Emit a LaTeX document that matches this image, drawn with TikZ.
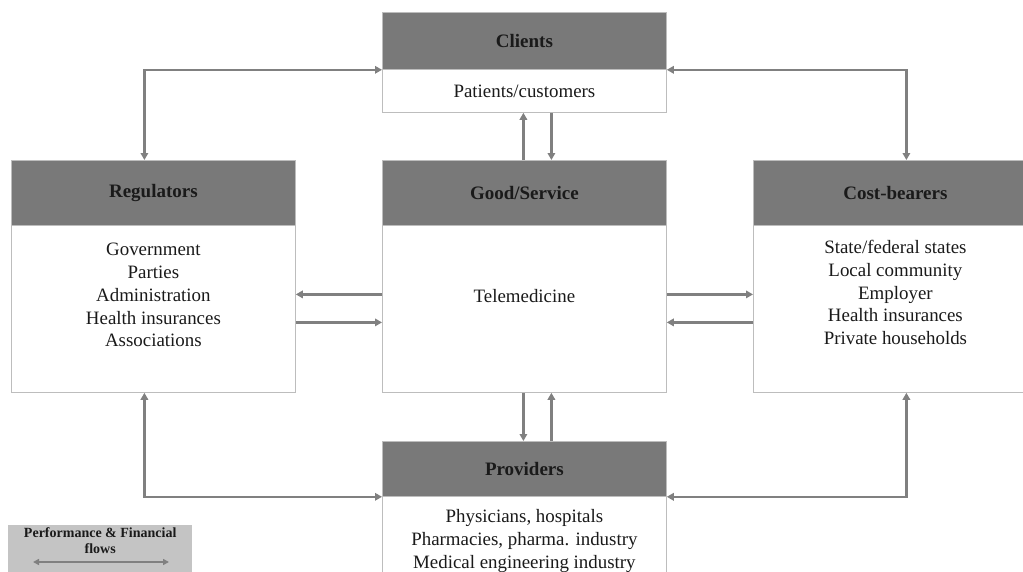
\documentclass[tikz,border=0pt]{standalone}
\usepackage{fontspec}
\setmainfont{Liberation Serif}
\usetikzlibrary{arrows.meta,calc}

\definecolor{headgray}{HTML}{797979}
\definecolor{boxline}{HTML}{BDBDBD}
\definecolor{flowgray}{HTML}{808080}
\definecolor{leggray}{HTML}{C4C4C4}
\definecolor{inkdark}{HTML}{1A1A1A}

\begin{document}
\begin{tikzpicture}[x=1pt,y=-1pt,
  head/.style={draw=boxline, line width=0.8pt, fill=headgray, minimum width=284pt,
    anchor=north west, inner sep=0pt, text=inkdark,
    font=\bfseries\fontsize{19}{22}\selectfont},
  body/.style={draw=boxline, line width=0.8pt, fill=white, minimum width=284pt,
    anchor=north west, inner sep=0pt},
  entries/.style={align=center, anchor=north, inner sep=0pt, text=inkdark,
    font=\fontsize{18.9}{22.8}\selectfont},
  flow/.style={draw=flowgray, line width=2.6pt,
    -{Triangle[length=7pt,width=7.5pt]}},
  flowboth/.style={draw=flowgray, line width=2.6pt,
    {Triangle[length=7pt,width=7.5pt]}-{Triangle[length=7pt,width=7.5pt]}}
]
\useasboundingbox (0,0) rectangle (1023,571);
\clip (0,0) rectangle (1023,571);

% Clients
\node[head, minimum height=57pt] (cliH) at (382,12) {Clients};
\node[body, minimum height=43pt] (cliB) at (382,69) {};
\node[entries, anchor=center] (cliT) at (cliB.center) {Patients/customers};

% Regulators
\node[head, minimum height=65pt] (regH) at (11,160) {Regulators};
\node[body, minimum height=167pt] (regB) at (11,225) {};
\node[entries] (regT) at ($(regB.north)+(0,18)$)
  {Government\\Parties\\Administration\\Health insurances\\Associations};

% Good/Service
\node[head, minimum height=65pt] (gooH) at (382,160) {Good/Service};
\node[body, minimum height=167pt] (gooB) at (382,225) {};
\node[entries, anchor=center] (gooT) at ($(gooB.center)+(0,-13)$) {Telemedicine};

% Cost-bearers
\node[head, minimum height=65pt] (cosH) at (753,160) {Cost-bearers};
\node[body, minimum height=167pt] (cosB) at (753,225) {};
\node[entries] (cosT) at ($(cosB.north)+(0,15)$)
  {State/federal states\\Local community\\Employer\\Health insurances\\Private households};

% Providers
\node[head, minimum height=55pt] (proH) at (382,441) {Providers};
\node[body, minimum height=120pt] (proB) at (382,496) {};
\node[entries, font=\fontsize{18.9}{23}\selectfont] (proT) at ($(proB.north)+(0,13)$)
  {Physicians, hospitals\\Pharmacies, pharma. industry\\Medical engineering industry};

% Flows between the outer actors
\draw[flowboth] ($(regH.north)+(-9,0)$) |- (cliH.south west);
\draw[flowboth] ($(cosH.north)+(11,0)$) |- (cliH.south east);
\draw[flowboth] ($(regB.south)+(-9,0)$) |- (proH.south west);
\draw[flowboth] ($(cosB.south)+(11,0)$) |- (proH.south east);

% Flows to and from the good/service
\draw[flow] ($(gooH.north)+(-1,0)$) -- ($(cliB.south)+(-1,0)$);
\draw[flow] ($(cliB.south)+(27,0)$) -- ($(gooH.north)+(27,0)$);
\draw[flow] ($(gooB.south)+(-1,0)$) -- ($(proH.north)+(-1,0)$);
\draw[flow] ($(proH.north)+(27,0)$) -- ($(gooB.south)+(27,0)$);
\draw[flow] ($(gooB.west)+(0,-14.5)$) -- ($(regB.east)+(0,-14.5)$);
\draw[flow] ($(regB.east)+(0,13.5)$) -- ($(gooB.west)+(0,13.5)$);
\draw[flow] ($(gooB.east)+(0,-14.5)$) -- ($(cosB.west)+(0,-14.5)$);
\draw[flow] ($(cosB.west)+(0,13.5)$) -- ($(gooB.east)+(0,13.5)$);

% Legend
\node[draw=none, fill=leggray, minimum width=184pt, minimum height=60pt,
  anchor=north west, inner sep=0pt] (leg) at (8,525) {};
\node[anchor=north, align=center, inner sep=0pt, text=inkdark,
  font=\bfseries\fontsize{14}{16.5}\selectfont] (legT) at ($(leg.north)+(0,2)$)
  {Performance \& Financial\\flows};
\coordinate (legL) at ($(leg.north west)+(25,37)$);
\coordinate (legR) at ($(leg.north west)+(161,37)$);
\draw[draw=flowgray, line width=1.8pt,
  {Triangle[length=6pt,width=6pt]}-{Triangle[length=6pt,width=6pt]}] (legL) -- (legR);
\end{tikzpicture}
\end{document}
